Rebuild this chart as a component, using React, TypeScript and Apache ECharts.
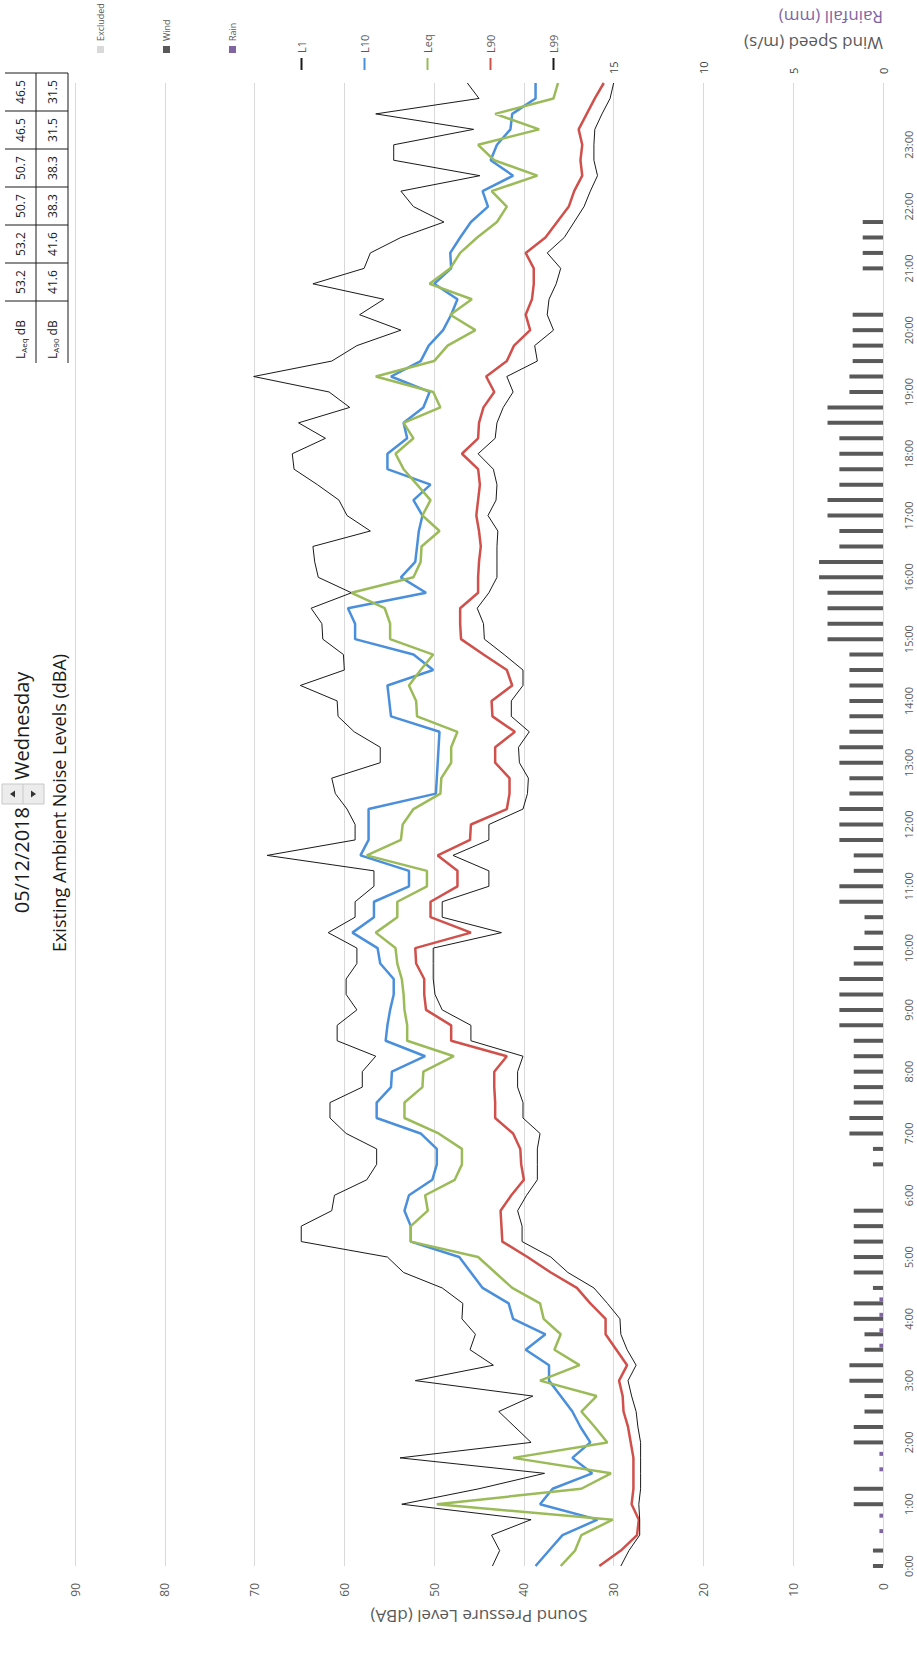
import React, { useEffect, useRef } from "react";
import * as echarts from "echarts";

// 15-minute time stamps 0:00 .. 24:00 (97 categories)
const TIMES: string[] = [];
for (let h = 0; h <= 24; h++) {
  for (const m of ["00", "15", "30", "45"]) {
    if (h === 24 && m !== "00") break;
    TIMES.push(`${h}:${m}`);
  }
}

const L1 = [43.5, 42.7, 43.6, 39.2, 53.6, 45.0, 37.7, 53.8, 39.2, 41.0,
  42.8, 39.0, 52.1, 43.4, 46.0, 45.4, 46.9, 46.8, 49.1, 53.4,
  55.2, 64.8, 64.8, 61.4, 61.1, 57.5, 56.4, 56.4, 59.8, 61.6,
  61.6, 58.0, 58.0, 56.5, 60.8, 60.8, 58.6, 59.8, 59.8, 58.6,
  58.6, 61.8, 58.8, 58.8, 56.7, 56.7, 68.6, 58.8, 58.8, 59.7,
  61.0, 61.4, 56.0, 56.0, 58.9, 60.7, 60.8, 64.9, 60.0, 60.1,
  62.4, 62.5, 63.7, 59.2, 62.9, 63.3, 63.5, 57.1, 59.7, 60.6,
  63.0, 65.6, 65.8, 62.1, 65.1, 59.4, 61.7, 70.1, 61.4, 58.6,
  53.7, 58.3, 55.6, 63.5, 57.8, 57.1, 53.7, 48.9, 52.3, 53.7,
  44.9, 54.5, 54.5, 45.6, 56.5, 45.0, 46.3];

const L10 = [38.7, 37.2, 35.7, 31.8, 38.2, 36.8, 32.4, 34.6, 32.6, 33.7,
  34.6, 35.9, 37.2, 37.2, 39.8, 37.6, 41.2, 41.7, 44.6, 45.9,
  47.2, 52.6, 52.6, 53.3, 52.8, 50.2, 49.7, 49.7, 51.5, 56.4,
  56.4, 54.8, 54.7, 51.0, 55.4, 55.2, 54.9, 54.5, 54.5, 56.0,
  56.3, 59.1, 56.7, 56.7, 52.8, 52.8, 58.2, 57.3, 57.3, 57.3,
  49.8, 49.7, 49.6, 49.5, 49.4, 54.8, 55.0, 55.2, 50.1, 52.3,
  58.8, 58.8, 59.6, 50.9, 53.7, 52.1, 51.9, 51.7, 51.3, 52.3,
  50.4, 55.2, 55.2, 53.0, 53.4, 51.2, 50.5, 54.8, 51.5, 50.6,
  49.0, 48.1, 47.4, 50.0, 48.1, 48.2, 47.1, 45.9, 44.0, 44.6,
  41.2, 43.7, 43.0, 41.5, 41.3, 38.7, 38.7];

const LEQ = [35.9, 34.3, 33.6, 30.1, 49.7, 33.6, 30.3, 41.2, 30.7, 32.1,
  33.6, 31.9, 38.2, 33.8, 36.6, 35.9, 37.8, 38.2, 41.3, 43.2,
  45.1, 52.6, 52.6, 50.7, 51.0, 47.7, 46.9, 46.9, 49.5, 53.3,
  53.3, 51.3, 51.2, 47.8, 53.0, 53.0, 53.3, 53.4, 53.6, 54.1,
  54.3, 56.5, 54.1, 54.1, 50.8, 50.8, 57.5, 53.7, 53.5, 52.3,
  49.3, 49.2, 48.1, 48.1, 47.4, 51.9, 52.0, 52.8, 51.5, 50.1,
  54.9, 54.9, 55.5, 59.2, 52.3, 51.5, 51.4, 49.4, 51.3, 50.4,
  51.9, 53.4, 54.3, 52.3, 53.4, 49.3, 50.1, 56.5, 50.0, 48.5,
  45.4, 48.2, 45.8, 50.5, 48.2, 47.1, 45.2, 43.0, 41.9, 43.6,
  38.5, 43.3, 45.1, 38.3, 43.2, 36.7, 36.2];

const L90 = [31.6, 29.2, 27.4, 27.2, 28.0, 27.8, 27.8, 27.8, 28.1, 28.4,
  28.9, 29.0, 29.4, 28.5, 29.7, 30.9, 30.9, 32.6, 34.1, 37.0,
  39.6, 42.4, 42.5, 42.6, 41.4, 40.0, 40.3, 40.4, 41.2, 43.2,
  43.2, 43.3, 43.3, 41.9, 48.1, 48.1, 50.9, 51.1, 51.1, 52.0,
  52.1, 45.9, 50.4, 50.4, 47.4, 47.4, 49.6, 46.0, 45.9, 41.9,
  41.6, 41.6, 43.2, 43.2, 41.0, 43.5, 43.6, 41.3, 41.9, 44.5,
  47.0, 47.1, 47.1, 45.1, 45.1, 45.0, 44.8, 45.0, 45.3, 45.1,
  44.9, 45.1, 46.9, 45.1, 45.0, 44.5, 43.3, 44.2, 41.9, 41.1,
  39.3, 39.8, 39.1, 38.9, 38.9, 39.8, 37.6, 36.3, 35.0, 34.4,
  33.5, 33.7, 33.5, 33.9, 33.0, 32.1, 31.1];

const L99 = [29.2, 28.3, 27.1, 27.1, 27.2, 27.0, 27.0, 27.0, 27.0, 27.3,
  27.5, 28.0, 28.4, 27.5, 28.5, 29.2, 29.3, 30.7, 32.2, 35.1,
  37.0, 40.2, 40.2, 40.7, 39.7, 38.5, 38.5, 38.5, 38.2, 40.1,
  40.1, 40.7, 40.7, 40.1, 45.9, 45.9, 49.1, 49.9, 50.1, 50.1,
  50.1, 42.5, 49.1, 49.1, 43.9, 43.9, 47.9, 43.9, 43.9, 40.1,
  39.6, 39.5, 40.5, 40.6, 39.4, 41.4, 41.4, 40.1, 40.1, 42.2,
  44.4, 44.5, 45.2, 43.9, 43.0, 43.0, 43.0, 42.9, 44.0, 43.1,
  43.0, 43.4, 45.1, 43.2, 43.0, 42.3, 41.2, 41.9, 38.5, 38.8,
  36.7, 37.4, 37.2, 36.4, 35.9, 37.4, 35.5, 34.4, 33.3, 32.6,
  31.8, 32.2, 32.2, 32.1, 31.3, 30.4, 30.0];

const WIND = [0.56, 0.56, 0, 0, 1.63, 1.63, 0, 0, 1.63, 1.63,
  1.03, 1.03, 1.87, 1.87, 1.03, 1.03, 1.63, 1.63, 0.56, 1.63,
  1.63, 1.63, 1.63, 1.63, 0, 0, 0.56, 0.56, 1.87, 1.87,
  1.63, 1.63, 1.63, 1.63, 1.63, 2.43, 2.43, 2.43, 2.43, 1.63,
  1.63, 1.03, 1.03, 2.43, 2.43, 1.63, 1.63, 2.43, 2.43, 2.43,
  1.87, 1.87, 2.43, 2.43, 1.87, 1.87, 1.87, 1.87, 1.87, 1.87,
  3.09, 3.09, 3.09, 3.09, 3.56, 3.56, 2.43, 2.43, 3.09, 3.09,
  2.43, 2.43, 2.43, 2.43, 3.09, 3.09, 1.87, 1.87, 1.69, 1.69,
  1.69, 1.69, 0, 0, 1.13, 1.13, 1.13, 1.13, 0, 0,
  0, 0, 0, 0, 0, 0, 0];

const RAIN = [0, 0, 0.2, 0.2, 0, 0, 0.2, 0.2, 0, 0,
  0, 0, 0, 0, 0.2, 0.2, 0.2, 0.2, 0, 0,
  0, 0, 0, 0, 0, 0, 0, 0, 0, 0,
  0, 0, 0, 0, 0, 0, 0, 0, 0, 0,
  0, 0, 0, 0, 0, 0, 0, 0, 0, 0,
  0, 0, 0, 0, 0, 0, 0, 0, 0, 0,
  0, 0, 0, 0, 0, 0, 0, 0, 0, 0,
  0, 0, 0, 0, 0, 0, 0, 0, 0, 0,
  0, 0, 0, 0, 0, 0, 0, 0, 0, 0,
  0, 0, 0, 0, 0, 0, 0];

const EXCLUDED: (number | null)[] = TIMES.map(() => null);

// summary table
const TABLE_LAEQ = ["53.2", "53.2", "50.7", "50.7", "46.5", "46.5"];
const TABLE_LA90 = ["41.6", "41.6", "38.3", "38.3", "31.5", "31.5"];

const DB_TICKS = { min: 0, max: 90, interval: 10 };
const WIND_TICKS = { min: 0, max: 45, interval: 5, shownMax: 15 };

const TITLE_DATE = "05/12/2018";
const TITLE_DAY = "Wednesday";
const TITLE_MAIN = "Existing Ambient Noise Levels (dBA)";

const FONT = "'Open Sans', 'Noto Sans', sans-serif";
const GREY = "#595959";

const C_L1 = "#1a1a1a";
const C_L10 = "#4a8fdb";
const C_LEQ = "#9bbb59";
const C_L90 = "#d0504c";
const C_L99 = "#1a1a1a";
const C_WIND = "#595959";
const C_RAIN = "#8064a2";
const C_EXCL = "#d9d9d9";

function tableGraphic() {
  const x0 = 1300;
  const labelW = 62;
  const cellW = 38;
  const rowY = [20, 52];
  const children: any[] = [];
  const rowLabel = (sub: string, y: number) => ({
    type: "text",
    x: x0 + 4,
    y,
    style: {
      text: `{a|L}{s|${sub}}{a| dB}`,
      rich: {
        a: { fontSize: 12, fontFamily: FONT, fill: "#1a1a1a", color: "#1a1a1a" },
        s: { fontSize: 8, fontFamily: FONT, fill: "#1a1a1a", color: "#1a1a1a", padding: [6, 0, 0, 0] },
      },
      align: "left",
      verticalAlign: "middle",
      textAlign: "left",
      textVerticalAlign: "middle",
    },
  });
  children.push(rowLabel("Aeq", rowY[0]));
  children.push(rowLabel("A90", rowY[1]));
  [TABLE_LAEQ, TABLE_LA90].forEach((row, r) => {
    row.forEach((v, i) => {
      children.push({
        type: "text",
        x: x0 + labelW + cellW * i + cellW / 2,
        y: rowY[r],
        style: {
          text: v,
          fontSize: 12,
          fontFamily: FONT,
          fill: "#1a1a1a",
          align: "center",
          verticalAlign: "middle",
          textAlign: "center",
          textVerticalAlign: "middle",
        },
      });
    });
  });
  const right = x0 + labelW + cellW * 6;
  for (let i = 0; i <= 6; i++) {
    const x = x0 + labelW + cellW * i;
    children.push({ type: "line", shape: { x1: x, y1: 5, x2: x, y2: 68 }, style: { stroke: "#1a1a1a", lineWidth: 1 } });
  }
  children.push({ type: "line", shape: { x1: x0, y1: 36, x2: right, y2: 36 }, style: { stroke: "#1a1a1a", lineWidth: 1 } });
  children.push({ type: "line", shape: { x1: x0, y1: 68, x2: right, y2: 68 }, style: { stroke: "#1a1a1a", lineWidth: 1 } });
  return { type: "group", children };
}

function buildOption() {
  const line = (name: string, data: number[], color: string, width: number) => ({
    name,
    type: "line",
    data,
    symbol: "none",
    z: 5,
    lineStyle: { color, width },
    itemStyle: { color },
  });
  const bar = (name: string, data: (number | null)[], color: string) => ({
    name,
    type: "bar",
    yAxisIndex: 1,
    data,
    barWidth: 4,
    barGap: "0%",
    itemStyle: { color },
    z: 2,
  });
  return {
    animation: false,
    backgroundColor: "#ffffff",
    textStyle: { fontFamily: FONT },
    grid: { left: 97, right: 83, top: 75, bottom: 34, containLabel: false },
    legend: [
      {
        orient: "vertical",
        left: 1610,
        top: 96,
        padding: 0,
        itemGap: 57,
        itemWidth: 7,
        itemHeight: 7,
        icon: "rect",
        data: ["Excluded", "Wind", "Rain"],
        textStyle: { fontSize: 9, color: GREY, fontFamily: FONT },
      },
      {
        orient: "vertical",
        left: 1593,
        top: 296,
        padding: 0,
        itemGap: 52,
        itemWidth: 12,
        itemHeight: 2,
        icon: "rect",
        data: ["L1", "L10", "Leq", "L90", "L99"],
        textStyle: { fontSize: 11, color: GREY, fontFamily: FONT },
      },
    ],
    xAxis: {
      type: "category",
      data: TIMES,
      boundaryGap: false,
      axisLine: { show: false },
      axisTick: { show: false },
      splitLine: { show: false },
      axisLabel: {
        interval: (i: number) => i % 4 === 0 && i < TIMES.length - 1,
        fontSize: 11,
        color: GREY,
        margin: 20,
        fontFamily: FONT,
      },
    },
    yAxis: [
      {
        type: "value",
        position: "left",
        min: DB_TICKS.min,
        max: DB_TICKS.max,
        interval: DB_TICKS.interval,
        axisLine: { show: false },
        axisTick: { show: false },
        splitLine: { lineStyle: { color: "#d9d9d9", width: 1 } },
        axisLabel: { fontSize: 12, color: GREY, margin: 17, fontFamily: FONT },
        name: "Sound Pressure Level (dBA)",
        nameLocation: "middle",
        nameRotate: 90,
        nameGap: 40,
        nameTextStyle: { fontSize: 17, color: GREY, fontFamily: FONT },
      },
      {
        type: "value",
        position: "right",
        min: WIND_TICKS.min,
        max: WIND_TICKS.max,
        interval: WIND_TICKS.interval,
        axisLine: { show: false },
        axisTick: { show: false },
        splitLine: { show: false },
        axisLabel: {
          fontSize: 11,
          color: "#404040",
          margin: 9,
          fontFamily: FONT,
          formatter: (v: number) => (v <= WIND_TICKS.shownMax ? String(v) : ""),
        },
      },
    ],
    graphic: [
      {
        type: "text",
        x: 856,
        y: 21,
        style: {
          text: TITLE_DATE,
          fill: "#1a1a1a",
          fontSize: 20,
          fontFamily: FONT,
          align: "right",
          verticalAlign: "middle",
          textAlign: "right",
          textVerticalAlign: "middle",
        },
      },
      {
        type: "group",
        x: 859,
        y: 2,
        children: [
          { type: "rect", shape: { x: 0, y: 0, width: 20, height: 42 }, style: { fill: "#ececec", stroke: "#c8c8c8", lineWidth: 1 } },
          { type: "line", shape: { x1: 0, y1: 21, x2: 20, y2: 21 }, style: { stroke: "#c8c8c8", lineWidth: 1 } },
          { type: "polygon", shape: { points: [[10, 8], [6.5, 13], [13.5, 13]] }, style: { fill: "#333" } },
          { type: "polygon", shape: { points: [[10, 34], [6.5, 29], [13.5, 29]] }, style: { fill: "#333" } },
        ],
      },
      {
        type: "text",
        x: 883,
        y: 21,
        style: {
          text: TITLE_DAY,
          fill: "#1a1a1a",
          fontSize: 20,
          fontFamily: FONT,
          align: "left",
          verticalAlign: "middle",
          textAlign: "left",
          textVerticalAlign: "middle",
        },
      },
      {
        type: "text",
        x: 860,
        y: 59,
        style: {
          text: TITLE_MAIN,
          fill: "#1a1a1a",
          fontSize: 18,
          fontFamily: FONT,
          align: "center",
          verticalAlign: "middle",
          textAlign: "center",
          textVerticalAlign: "middle",
        },
      },
      tableGraphic(),
      {
        type: "text",
        x: 1620,
        y: 883,
        rotation: Math.PI / 2,
        style: {
          text: "Wind Speed (m/s)",
          fill: GREY,
          fontSize: 17,
          fontFamily: FONT,
          align: "left",
          verticalAlign: "middle",
          textAlign: "left",
          textVerticalAlign: "middle",
        },
      },
      {
        type: "text",
        x: 1646,
        y: 883,
        rotation: Math.PI / 2,
        style: {
          text: "Rainfall (mm)",
          fill: C_RAIN,
          fontSize: 17,
          fontFamily: FONT,
          align: "left",
          verticalAlign: "middle",
          textAlign: "left",
          textVerticalAlign: "middle",
        },
      },
    ],
    series: [
      bar("Excluded", EXCLUDED, C_EXCL),
      bar("Wind", WIND.map((v) => (v > 0 ? v : null)), C_WIND),
      bar("Rain", RAIN.map((v) => (v > 0 ? v : null)), C_RAIN),
      line("L1", L1, C_L1, 1),
      line("L10", L10, C_L10, 2.5),
      line("Leq", LEQ, C_LEQ, 2.5),
      line("L90", L90, C_L90, 2.5),
      line("L99", L99, C_L99, 1),
    ],
  };
}

export default function App() {
  const ref = useRef<HTMLDivElement>(null);
  useEffect(() => {
    if (!ref.current) return;
    const chart = echarts.init(ref.current, null, { renderer: "svg" });
    chart.setOption(buildOption() as any);
    return () => chart.dispose();
  }, []);
  return (
    <div
      style={{
        position: "fixed",
        left: 0,
        top: 0,
        width: 917,
        height: 1663,
        overflow: "hidden",
        background: "#ffffff",
      }}
    >
      <div
        ref={ref}
        style={{
          position: "absolute",
          left: 0,
          top: 0,
          width: 1663,
          height: 917,
          transformOrigin: "0 0",
          transform: "translate(0px, 1663px) rotate(-90deg)",
        }}
      />
    </div>
  );
}
